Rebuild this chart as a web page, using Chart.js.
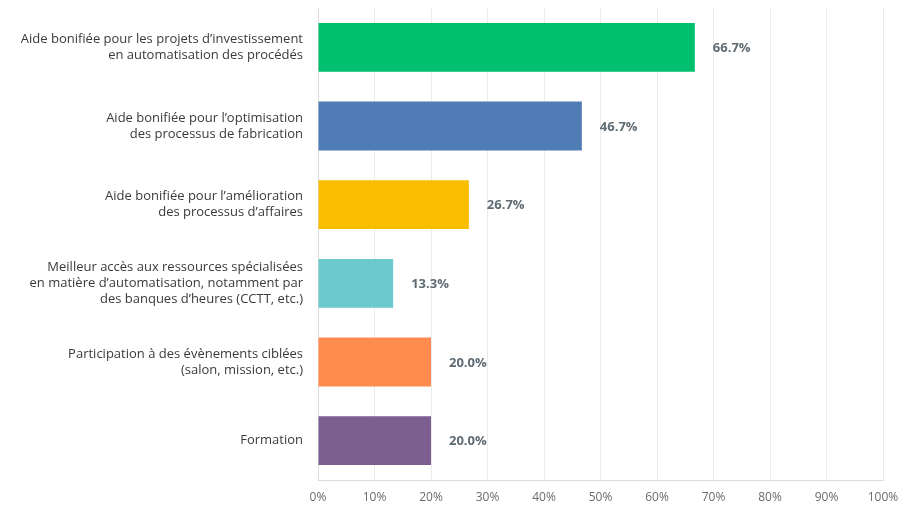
<!DOCTYPE html>
<html>
<head>
<meta charset="utf-8">
<script src="https://cdn.jsdelivr.net/npm/chart.js@4/dist/chart.umd.min.js"></script>
<style>
  html, body { margin: 0; padding: 0; background: #fff; }
  #wrap { width: 901px; height: 507px; position: relative; }
</style>
</head>
<body>
<div id="wrap"><canvas id="chart"></canvas></div>
<script>
const categories = [
  ['Aide bonifiée pour les projets d\u2019investissement', 'en automatisation des procédés'],
  ['Aide bonifiée pour l\u2019optimisation', 'des processus de fabrication'],
  ['Aide bonifiée pour l\u2019amélioration', 'des processus d\u2019affaires'],
  ['Meilleur accès aux ressources spécialisées', 'en matière d\u2019automatisation, notamment par', 'des banques d\u2019heures (CCTT, etc.)'],
  ['Participation à des évènements ciblées', '(salon, mission, etc.)'],
  ['Formation']
];
const values = [66.7, 46.7, 26.7, 13.3, 20.0, 20.0];
const barColors = ['#00BF6F', '#507CB6', '#F9BE00', '#6BC8CD', '#FF8B4F', '#7D5E90'];
const xTicks = [0, 10, 20, 30, 40, 50, 60, 70, 80, 90, 100];

const valueLabels = {
  id: 'valueLabels',
  afterDatasetsDraw(chart) {
    const ctx = chart.ctx;
    const meta = chart.getDatasetMeta(0);
    ctx.save();
    ctx.font = 'bold 13px "Open Sans", sans-serif';
    ctx.fillStyle = '#5f6b73';
    ctx.textAlign = 'left';
    ctx.textBaseline = 'middle';
    meta.data.forEach((bar, i) => {
      ctx.fillText(values[i].toFixed(1) + '%', bar.x + 18, bar.y + 1);
    });
    ctx.restore();
  }
};

new Chart(document.getElementById('chart'), {
  type: 'bar',
  data: {
    labels: categories,
    datasets: [{
      data: values,
      backgroundColor: barColors,
      borderWidth: 0,
      categoryPercentage: 1,
      barPercentage: 0.62
    }]
  },
  options: {
    indexAxis: 'y',
    responsive: true,
    maintainAspectRatio: false,
    animation: false,
    layout: { padding: { top: 8, right: 18, left: 0, bottom: 0 } },
    plugins: {
      legend: { display: false },
      tooltip: { enabled: false }
    },
    scales: {
      x: {
        min: 0,
        max: 100,
        afterBuildTicks(scale) {
          scale.ticks = xTicks.map(v => ({ value: v }));
        },
        grid: { color: '#ebebeb', drawTicks: false },
        border: { color: '#dcdcdc' },
        ticks: {
          padding: 10,
          color: '#6b6b6b',
          font: { family: '"Open Sans", sans-serif', size: 12 },
          callback: v => v + '%'
        },
        afterFit(scale) {
          scale.height = 27;
          scale.paddingLeft = 0;
          scale.paddingRight = 0;
        }
      },
      y: {
        grid: { display: false, drawTicks: false },
        border: { color: '#dcdcdc' },
        ticks: {
          padding: 15,
          color: '#3a3a3a',
          font: { family: '"Open Sans", sans-serif', size: 13, lineHeight: 1.25 },
          crossAlign: 'near'
        },
        afterFit(scale) {
          scale.width = 318;
          scale.paddingTop = 0;
          scale.paddingBottom = 0;
        }
      }
    }
  },
  plugins: [valueLabels]
});
</script>
</body>
</html>
